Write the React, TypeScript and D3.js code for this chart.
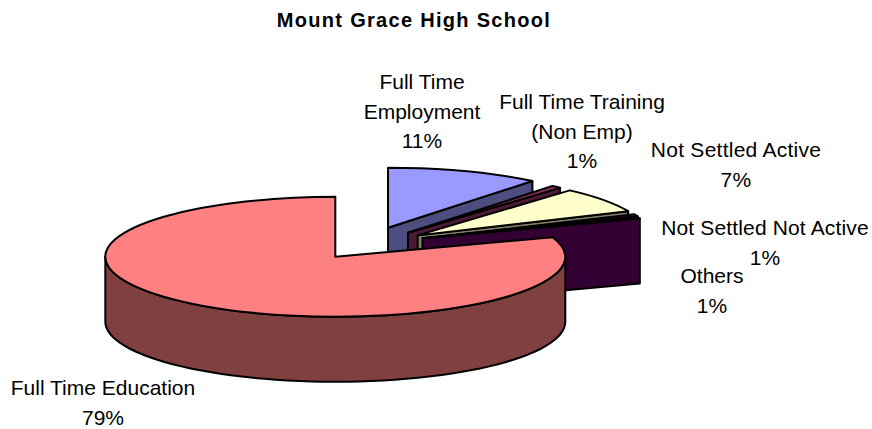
import React from 'react';
import * as d3 from 'd3';

const categories = [
  'Full Time Employment',
  'Full Time Training (Non Emp)',
  'Not Settled Active',
  'Not Settled Not Active',
  'Others',
  'Full Time Education',
];
const sliceValues = [10.8, 0.7, 6.9, 0.7, 0.6, 80.3];
const percentLabels = ['11%', '1%', '7%', '1%', '1%', '79%'];
const explosions = [0.34, 0.31, 0.3, 0.29, 0.28, 0.2];
const sliceLift = [0, 0, 1, 2, 3, 0];
const topColours = ['#9999FF', '#993366', '#FFFFCC', '#660066', '#660066', '#FF8080'];

// label lines, split the way the chart wraps them
const labelLines = [
  ['Full Time', 'Employment'],
  ['Full Time Training', '(Non Emp)'],
  ['Not Settled Active'],
  ['Not Settled Not Active'],
  ['Others'],
  ['Full Time Education'],
];
const labelAnchors: [number, number][] = [
  [422, 89],
  [582, 109],
  [736, 157],
  [765, 235],
  [712, 283],
  [103, 395],
];
const labelSpacing = [0, 0, 0.25, 0.15, 0, 0];

const width = 872;
const height = 429;
const rx = 230;
const ry = 60;
const depth = 65;
const pieCentre: [number, number] = [362, 247];
const lineHeight = 29.7;

const App: React.FC = () => {
  const pie = d3.pie<number>().sort(null).value(d => d)(sliceValues);
  const arc = d3.arc<d3.PieArcDatum<number>>().innerRadius(0).outerRadius(rx);
  const line = d3.line();

  // rim point for a pie angle, 0 at the top going clockwise
  const rim = (a: number, cx: number, cy: number): [number, number] => [
    cx + rx * Math.sin(a),
    cy - ry * Math.cos(a),
  ];

  const slices = pie.map((d, i) => {
    const mid = (d.startAngle + d.endAngle) / 2;
    const cx = pieCentre[0] + explosions[i] * rx * Math.sin(mid);
    const cy = pieCentre[1] - explosions[i] * ry * Math.cos(mid) - sliceLift[i];
    const top = d3.rgb(topColours[i]);
    const side = d3.rgb(top.r / 2, top.g / 2, top.b / 2).formatHex();

    const from = Math.max(d.startAngle, Math.PI / 2);
    const to = Math.min(d.endAngle, (3 * Math.PI) / 2);
    let rimPath: string | null = null;
    if (to > from) {
      const angles = d3.range(0, 61).map(k => from + ((to - from) * k) / 60);
      const upper = angles.map(a => rim(a, cx, cy));
      const lower = angles.map(a => rim(a, cx, cy + depth)).reverse();
      rimPath = line([...upper, ...lower]) + 'Z';
    }

    // the radial face on the closing side shows while the slice ends on the right
    let facePath: string | null = null;
    if (d.endAngle < Math.PI) {
      const tip = rim(d.endAngle, cx, cy);
      facePath = line([[cx, cy], tip, [tip[0], tip[1] + depth], [cx, cy + depth]]) + 'Z';
    }

    return { d, i, cx, cy, side, rimPath, facePath };
  });

  return (
    <svg
      width={width}
      height={height}
      style={{ position: 'absolute', left: 0, top: 0, fontFamily: '"Liberation Sans", Arial, sans-serif' }}
    >
      <rect width={width} height={height} fill="white" />
      <text x={414} y={27} textAnchor="middle" fontSize={20} fontWeight="bold" letterSpacing={1.3}>
        Mount Grace High School
      </text>

      {slices.map(s => (
        <g key={categories[s.i]} stroke="black" strokeWidth={2} strokeLinejoin="round">
          {s.facePath && <path d={s.facePath} fill={s.side} />}
          {s.rimPath && <path d={s.rimPath} fill={s.side} />}
          <path
            d={arc(s.d) as string}
            transform={`translate(${s.cx},${s.cy}) scale(1,${ry / rx})`}
            fill={topColours[s.i]}
            vectorEffect="non-scaling-stroke"
          />
        </g>
      ))}

      {categories.map((c, i) => {
        const [x, y] = labelAnchors[i];
        const lines = [...labelLines[i], percentLabels[i]];
        return (
          <text
            key={c}
            x={x}
            y={y}
            textAnchor="middle"
            fontSize={21}
            letterSpacing={labelSpacing[i]}
            fill="black"
          >
            {lines.map((l, k) => (
              <tspan key={k} x={x} dy={k === 0 ? 0 : lineHeight}>
                {l}
              </tspan>
            ))}
          </text>
        );
      })}
    </svg>
  );
};

export default App;
